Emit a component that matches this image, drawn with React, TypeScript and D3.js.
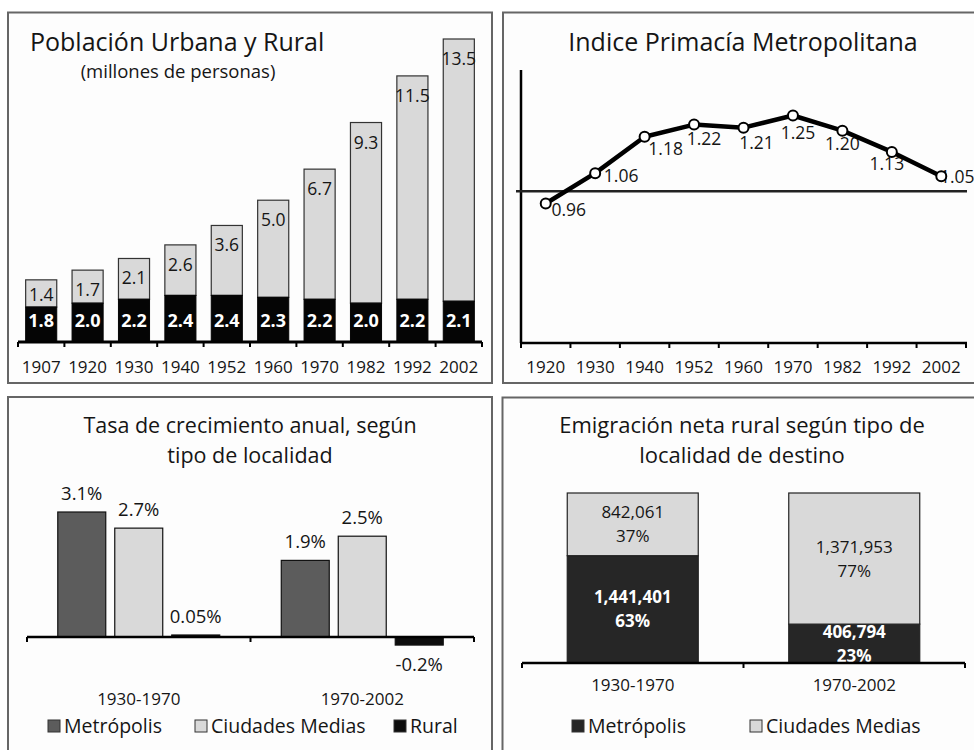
import React from "react";
import * as d3 from "d3";

// ---------- DATA ----------
const years1 = ["1907", "1920", "1930", "1940", "1952", "1960", "1970", "1982", "1992", "2002"];
const rural1 = [1.8, 2.0, 2.2, 2.4, 2.4, 2.3, 2.2, 2.0, 2.2, 2.1];
const urban1 = [1.4, 1.7, 2.1, 2.6, 3.6, 5.0, 6.7, 9.3, 11.5, 13.5];

const years2 = ["1920", "1930", "1940", "1952", "1960", "1970", "1982", "1992", "2002"];
const primacy2 = [0.96, 1.06, 1.18, 1.22, 1.21, 1.25, 1.2, 1.13, 1.05];
const primacyLabels2 = ["0.96", "1.06", "1.18", "1.22", "1.21", "1.25", "1.20", "1.13", "1.05"];

const periods = ["1930-1970", "1970-2002"];
const series3 = ["Metrópolis", "Ciudades Medias", "Rural"];
const metro3 = [3.1, 1.9];
const ciudades3 = [2.7, 2.5];
const ruralRate3 = [0.05, -0.2];

const series4 = ["Metrópolis", "Ciudades Medias"];
const metro4 = [1441401, 406794];
const ciudades4 = [842061, 1371953];

// label placement offsets for panel 2 (relative to point)
const labelOffsets2: [number, number][] = [
  [23, 7], [26, 3], [21, 12], [10, 14], [13, 15], [5, 17], [0, 13], [-5, 12], [16, 1],
];

const FONT = "'Open Sans', 'Noto Sans', sans-serif";
const TXT = "#151515";

function Panel1() {
  const x = d3.scaleBand().domain(years1).range([18, 482]).paddingInner(0.33).paddingOuter(0.165);
  const y = d3.scaleLinear().domain([0, 15.6]).range([342, 39]);
  const step = x.step();
  return (
    <g>
      <text x={30} y={51} fontSize={25} fill={TXT} fontFamily={FONT}>Población Urbana y Rural</text>
      <text x={178} y={78} fontSize={18.5} fill={TXT} fontFamily={FONT} textAnchor="middle">(millones de personas)</text>
      {years1.map((yr, i) => {
        const bx = x(yr)!;
        const w = x.bandwidth();
        const r = rural1[i];
        const u = urban1[i];
        return (
          <g key={yr}>
            <rect x={bx} y={y(r + u)} width={w} height={y(r) - y(r + u)} fill="#d9d9d9" stroke="#333" strokeWidth={1.2} />
            <rect x={bx} y={y(r)} width={w} height={y(0) - y(r)} fill="#050505" stroke="#050505" strokeWidth={1} />
            <text x={bx + w / 2} y={Math.min(y(r + u) + 26, y(r) - 6)} fontSize={17.5} fill={TXT} fontFamily={FONT} textAnchor="middle">{u.toFixed(1)}</text>
            <text x={bx + w / 2} y={327} fontSize={18} fontWeight={700} fill="#fff" fontFamily={FONT} textAnchor="middle">{r.toFixed(1)}</text>
            <text x={bx + w / 2} y={373} fontSize={17} fill={TXT} fontFamily={FONT} textAnchor="middle">{yr}</text>
          </g>
        );
      })}
      <line x1={18} x2={482} y1={342} y2={342} stroke="#000" strokeWidth={3} />
      {d3.range(years1.length + 1).map((k) => (
        <line key={k} x1={18 + k * step} x2={18 + k * step} y1={342} y2={347} stroke="#000" strokeWidth={2} />
      ))}
    </g>
  );
}

function Panel2() {
  const x = d3.scaleBand().domain(years2).range([521, 966]);
  const y = d3.scaleLinear().domain([0.5, 1.4]).range([343, 70]);
  const cx = (d: string) => x(d)! + x.bandwidth() / 2;
  const line = d3.line<number>().x((_, i) => cx(years2[i])).y((v) => y(v));
  const step = x.step();
  return (
    <g>
      <text x={743} y={51} fontSize={25} fill={TXT} fontFamily={FONT} textAnchor="middle">Indice Primacía Metropolitana</text>
      <line x1={521} x2={521} y1={70} y2={343} stroke="#000" strokeWidth={2.5} />
      <line x1={516} x2={967} y1={y(1)} y2={y(1)} stroke="#222" strokeWidth={2.5} />
      <line x1={521} x2={967} y1={343} y2={343} stroke="#000" strokeWidth={2.5} />
      {d3.range(years2.length + 1).map((k) => (
        <line key={k} x1={521 + k * step} x2={521 + k * step} y1={343} y2={348} stroke="#000" strokeWidth={2} />
      ))}
      {years2.map((yr) => (
        <text key={yr} x={cx(yr)} y={373} fontSize={17} fill={TXT} fontFamily={FONT} textAnchor="middle">{yr}</text>
      ))}
      {primacy2.map((v, i) => (
        <text key={i} x={cx(years2[i]) + labelOffsets2[i][0]} y={y(v) + labelOffsets2[i][1] + 6} fontSize={17.5} fill={TXT} fontFamily={FONT} textAnchor="middle">{primacyLabels2[i]}</text>
      ))}
      <path d={line(primacy2)!} fill="none" stroke="#000" strokeWidth={4.5} strokeLinejoin="round" />
      {primacy2.map((v, i) => (
        <circle key={i} cx={cx(years2[i])} cy={y(v)} r={5} fill="#fff" stroke="#000" strokeWidth={2} />
      ))}
    </g>
  );
}

function Legend({ items, colors, xs, y }: { items: string[]; colors: string[]; xs: number[]; y: number }) {
  return (
    <g>
      {items.map((s, i) => (
        <g key={s}>
          <rect x={xs[i]} y={y - 6} width={12} height={12} fill={colors[i]} stroke="#333" strokeWidth={1} />
          <text x={xs[i] + 16} y={y + 7} fontSize={19.5} fill={TXT} fontFamily={FONT}>{s}</text>
        </g>
      ))}
    </g>
  );
}

function Panel3() {
  const x0 = d3.scaleBand().domain(periods).range([27, 474]);
  const x1 = d3.scaleBand().domain(series3).range([0, x0.bandwidth()]).paddingInner(0.158).paddingOuter(0.54);
  const y = d3.scaleLinear().domain([0, 3.1]).range([637, 512]);
  const values = [metro3, ciudades3, ruralRate3];
  const colors = ["#5c5c5c", "#d9d9d9", "#0d0d0d"];
  return (
    <g>
      <text x={250} y={433} fontSize={21.5} fill={TXT} fontFamily={FONT} textAnchor="middle">Tasa de crecimiento anual, según</text>
      <text x={250} y={463} fontSize={21.5} fill={TXT} fontFamily={FONT} textAnchor="middle">tipo de localidad</text>
      {periods.map((p) => (
        <g key={p}>
          {series3.map((s, si) => {
            const v = values[si][periods.indexOf(p)];
            const bx = x0(p)! + x1(s)!;
            const w = x1.bandwidth();
            const top = Math.min(y(v), y(0));
            const h = Math.max(Math.abs(y(v) - y(0)), 2);
            return (
              <g key={s}>
                <rect x={bx} y={v >= 0 ? y(0) - h : y(0)} width={w} height={h} fill={colors[si]} stroke="#111" strokeWidth={1.2} />
                <text x={bx + w / 2} y={v >= 0 ? top - 12 : y(v) + 26} fontSize={18.5} fill={TXT} fontFamily={FONT} textAnchor="middle">{`${v}%`}</text>
              </g>
            );
          })}
          <text x={x0(p)! + x0.bandwidth() / 2} y={705} fontSize={17} fill={TXT} fontFamily={FONT} textAnchor="middle">{p}</text>
        </g>
      ))}
      <line x1={27} x2={474} y1={637} y2={637} stroke="#000" strokeWidth={2.5} />
      {[27, 250.5, 474].map((t) => (
        <line key={t} x1={t} x2={t} y1={637} y2={642} stroke="#000" strokeWidth={2} />
      ))}
      <Legend items={series3} colors={colors} xs={[48, 195, 394]} y={726} />
    </g>
  );
}

function Panel4() {
  const x = d3.scaleBand().domain(periods).range([522, 965]).paddingInner(0.4086).paddingOuter(0.2043);
  const y = d3.scaleLinear().domain([0, 1]).range([663, 493]);
  const totals = periods.map((_, i) => metro4[i] + ciudades4[i]);
  const rows = periods.map((p, i) => ({ period: p, m: metro4[i] / totals[i], c: ciudades4[i] / totals[i] }));
  const stack = d3.stack<any>().keys(["m", "c"])(rows);
  const colors = ["#262626", "#d9d9d9"];
  const raw = [metro4, ciudades4];
  const fmt = d3.format(",");
  const pct = d3.format(".0%");
  return (
    <g>
      <text x={742} y={433} fontSize={22} fill={TXT} fontFamily={FONT} textAnchor="middle">Emigración neta rural según tipo de</text>
      <text x={742} y={463} fontSize={22} fill={TXT} fontFamily={FONT} textAnchor="middle">localidad de destino</text>
      {stack.map((layer, li) => (
        <g key={li}>
          {layer.map((seg, pi) => {
            const bx = x(periods[pi])!;
            const w = x.bandwidth();
            const mid = (y(seg[0]) + y(seg[1])) / 2;
            const white = li === 0;
            return (
              <g key={pi}>
                <rect x={bx} y={y(seg[1])} width={w} height={y(seg[0]) - y(seg[1])} fill={colors[li]} stroke="#222" strokeWidth={1.2} />
                <text x={bx + w / 2} y={mid - 6} fontSize={17} fontWeight={white ? 700 : 400} fill={white ? "#fff" : TXT} fontFamily={FONT} textAnchor="middle">{fmt(raw[li][pi])}</text>
                <text x={bx + w / 2} y={mid + 18} fontSize={17} fontWeight={white ? 700 : 400} fill={white ? "#fff" : TXT} fontFamily={FONT} textAnchor="middle">{pct(seg[1] - seg[0])}</text>
              </g>
            );
          })}
        </g>
      ))}
      {periods.map((p) => (
        <text key={p} x={x(p)! + x.bandwidth() / 2} y={691} fontSize={17} fill={TXT} fontFamily={FONT} textAnchor="middle">{p}</text>
      ))}
      <line x1={522} x2={965} y1={663} y2={663} stroke="#000" strokeWidth={2.5} />
      {[522, 743.5, 965].map((t) => (
        <line key={t} x1={t} x2={t} y1={663} y2={668} stroke="#000" strokeWidth={2} />
      ))}
      <Legend items={series4} colors={colors} xs={[572, 750]} y={726} />
    </g>
  );
}

export default function App() {
  return (
    <svg width={974} height={750} style={{ position: "absolute", left: 0, top: 0, background: "#fff" }}>
      <rect x={0} y={0} width={974} height={750} fill="#fff" />
      <rect x={8} y={12.5} width={484} height={370.5} fill="#fdfdfd" stroke="#666" strokeWidth={2} />
      <rect x={503} y={12.5} width={480} height={370.5} fill="#fdfdfd" stroke="#666" strokeWidth={2} />
      <rect x={8} y={397} width={484} height={370} fill="#fdfdfd" stroke="#666" strokeWidth={2} />
      <rect x={502.5} y={397.5} width={480} height={370} fill="#fdfdfd" stroke="#666" strokeWidth={2} />
      <Panel1 />
      <Panel2 />
      <Panel3 />
      <Panel4 />
    </svg>
  );
}
